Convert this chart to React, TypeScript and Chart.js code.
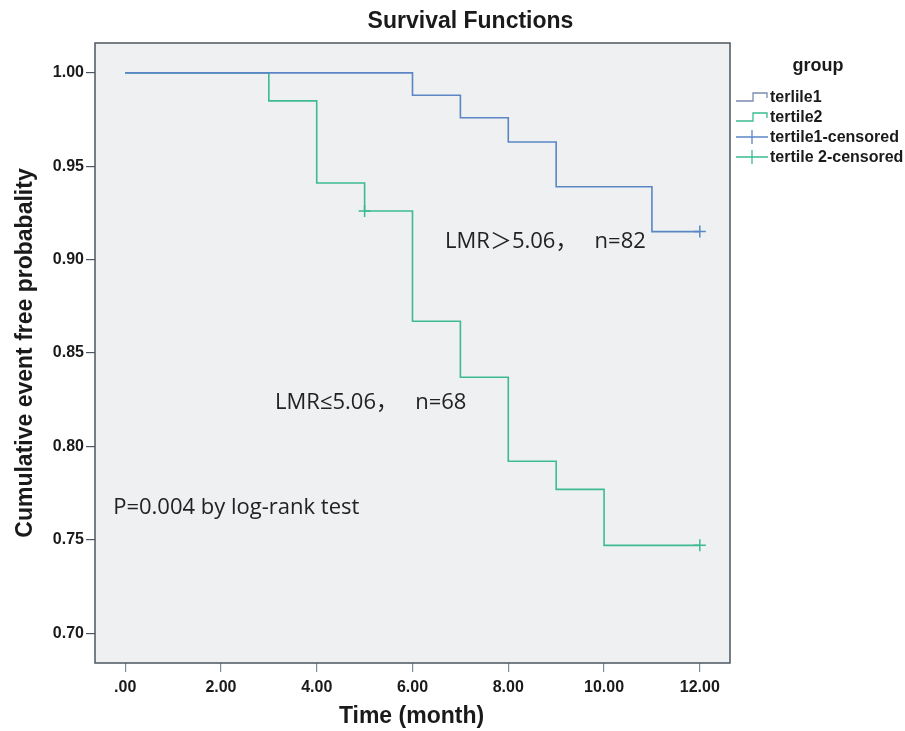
import React, { useEffect, useRef } from 'react';
import { Chart, registerables } from 'chart.js';

Chart.register(...registerables);

// ---------- data ----------
const tertile1Times = [0, 6, 7, 8, 9, 11, 12];
const tertile1Survival = [1.0, 0.988, 0.976, 0.963, 0.939, 0.915, 0.915];
const tertile2Times = [0, 3, 4, 5, 6, 7, 8, 9, 10, 12];
const tertile2Survival = [1.0, 0.985, 0.941, 0.926, 0.867, 0.837, 0.792, 0.777, 0.747, 0.747];
const tertile1CensoredTimes = [12];
const tertile1CensoredSurvival = [0.915];
const tertile2CensoredTimes = [5, 12];
const tertile2CensoredSurvival = [0.926, 0.747];

const xTickValues = [0, 2, 4, 6, 8, 10, 12];
const xTickLabels = ['.00', '2.00', '4.00', '6.00', '8.00', '10.00', '12.00'];
const yTickValues = [0.7, 0.75, 0.8, 0.85, 0.9, 0.95, 1.0];
const yTickLabels = ['0.70', '0.75', '0.80', '0.85', '0.90', '0.95', '1.00'];

const legendTitle = 'group';
const legendLabels = ['terlile1', 'tertile2', 'tertile1-censored', 'tertile 2-censored'];
const chartTitle = 'Survival Functions';
const xAxisTitle = 'Time (month)';
const yAxisTitle = 'Cumulative event free probabality';
const annotationTexts = ['LMR\uFF1E5.06\uFF0C   n=82', 'LMR\u22645.06\uFF0C   n=68', 'P=0.004 by log-rank test'];
// annotation anchor positions (data coordinates: time, probability)
const annotationAnchors = [
  [6.68, 0.9095],
  [3.13, 0.8235],
  [-0.25, 0.7672],
];

// ---------- styles ----------
const BLUE = '#5b86c6';
const GREEN = '#3dba92';
const LEGEND_BLUE = '#7c8bb0';
const PLOT_BG = '#eef0f1';
const TEXT = '#1a1a1a';
const SANS = '"Liberation Sans", Arial, sans-serif';
const NOTE_FONT = '"Open Sans", "Noto Sans", "Noto Sans CJK SC", sans-serif';

const toXY = (xs: number[], ys: number[]) => xs.map((x, i) => ({ x, y: ys[i] }));

const decorPlugin = {
  id: 'spssDecor',
  beforeDraw(chart: any) {
    const { ctx, chartArea } = chart;
    ctx.save();
    ctx.fillStyle = '#ffffff';
    ctx.fillRect(0, 0, chart.width, chart.height);
    ctx.fillStyle = PLOT_BG;
    ctx.fillRect(chartArea.left, chartArea.top, chartArea.right - chartArea.left, chartArea.bottom - chartArea.top);
    ctx.restore();
  },
  afterDraw(chart: any) {
    const { ctx, chartArea } = chart;
    const xs = chart.scales.x;
    const ys = chart.scales.y;
    ctx.save();
    // plot frame
    ctx.strokeStyle = '#4d5560';
    ctx.lineWidth = 1.5;
    ctx.strokeRect(chartArea.left, chartArea.top, chartArea.right - chartArea.left, chartArea.bottom - chartArea.top);

    // title
    ctx.fillStyle = TEXT;
    ctx.textAlign = 'center';
    ctx.textBaseline = 'middle';
    ctx.font = `bold 23px ${SANS}`;
    ctx.fillText(chartTitle, (chartArea.left + chartArea.right) / 2 + 58, 22);

    // x axis title
    ctx.font = `bold 23px ${SANS}`;
    ctx.fillText(xAxisTitle, (chartArea.left + chartArea.right) / 2 - 1, 717);

    // y axis title
    ctx.save();
    ctx.translate(26, (chartArea.top + chartArea.bottom) / 2);
    ctx.rotate(-Math.PI / 2);
    ctx.font = `bold 23px ${SANS}`;
    ctx.fillText(yAxisTitle, 0, 0);
    ctx.restore();

    // annotations
    ctx.font = `22px ${NOTE_FONT}`;
    ctx.textAlign = 'left';
    ctx.fillStyle = '#222222';
    annotationTexts.forEach((t, i) => {
      const [ax, ay] = annotationAnchors[i];
      ctx.fillText(t, xs.getPixelForValue(ax), ys.getPixelForValue(ay));
    });

    // legend
    const lx = chartArea.right + 6;
    ctx.fillStyle = TEXT;
    ctx.textAlign = 'center';
    ctx.font = `bold 18px ${SANS}`;
    ctx.fillText(legendTitle, 818, 66);
    ctx.textAlign = 'left';
    ctx.font = `bold 16px ${SANS}`;
    const rowY = [97, 117, 137, 157];
    const colors = [LEGEND_BLUE, GREEN, BLUE, GREEN];
    legendLabels.forEach((label, i) => {
      const y = rowY[i];
      ctx.strokeStyle = colors[i];
      ctx.lineWidth = 1.3;
      ctx.beginPath();
      if (i < 2) {
        ctx.moveTo(lx, y + 4);
        ctx.lineTo(lx + 17, y + 4);
        ctx.lineTo(lx + 17, y - 4);
        ctx.lineTo(lx + 31, y - 4);
        ctx.lineTo(lx + 31, y + 1);
      } else {
        ctx.moveTo(lx, y);
        ctx.lineTo(lx + 32, y);
        ctx.moveTo(lx + 16, y - 7);
        ctx.lineTo(lx + 16, y + 7);
      }
      ctx.stroke();
      ctx.fillStyle = TEXT;
      ctx.fillText(label, lx + 34, y + 1);
    });
    ctx.restore();
  },
};

export default function App() {
  const canvasRef = useRef<HTMLCanvasElement | null>(null);

  useEffect(() => {
    if (!canvasRef.current) return;
    const chart = new Chart(canvasRef.current, {
      type: 'line',
      data: {
        datasets: [
          {
            label: legendLabels[0],
            data: toXY(tertile1Times, tertile1Survival),
            borderColor: BLUE,
            borderWidth: 1.6,
            stepped: 'before',
            pointRadius: 0,
            fill: false,
          },
          {
            label: legendLabels[1],
            data: toXY(tertile2Times, tertile2Survival),
            borderColor: GREEN,
            borderWidth: 1.6,
            stepped: 'before',
            pointRadius: 0,
            fill: false,
          },
          {
            type: 'scatter',
            label: legendLabels[2],
            data: toXY(tertile1CensoredTimes, tertile1CensoredSurvival),
            borderColor: BLUE,
            backgroundColor: BLUE,
            pointStyle: 'cross',
            pointRadius: 6,
            borderWidth: 1.5,
            showLine: false,
          },
          {
            type: 'scatter',
            label: legendLabels[3],
            data: toXY(tertile2CensoredTimes, tertile2CensoredSurvival),
            borderColor: GREEN,
            backgroundColor: GREEN,
            pointStyle: 'cross',
            pointRadius: 6,
            borderWidth: 1.5,
            showLine: false,
          },
        ] as any,
      },
      options: {
        animation: false,
        responsive: true,
        maintainAspectRatio: false,
        layout: { padding: { left: 0, right: 175, top: 43, bottom: 0 } },
        plugins: {
          legend: { display: false },
          title: { display: false },
          tooltip: { enabled: false },
        },
        scales: {
          x: {
            type: 'linear',
            min: -0.63,
            max: 12.63,
            afterBuildTicks: (scale: any) => {
              scale.ticks = xTickValues.map((v) => ({ value: v }));
            },
            afterFit: (scale: any) => {
              scale.height = 68;
            },
            border: { display: false },
            grid: {
              drawOnChartArea: false,
              drawTicks: true,
              tickLength: 9,
              color: '#7d8c9a',
              lineWidth: 1.2,
            },
            ticks: {
              autoSkip: false,
              maxRotation: 0,
              padding: 6,
              color: TEXT,
              font: { family: SANS, size: 16, weight: 'bold' },
              callback: (_v: any, i: number) => xTickLabels[i],
            },
          },
          y: {
            type: 'linear',
            min: 0.684,
            max: 1.016,
            afterBuildTicks: (scale: any) => {
              scale.ticks = yTickValues.map((v) => ({ value: v }));
            },
            afterFit: (scale: any) => {
              scale.width = 95;
            },
            border: { display: false },
            grid: {
              drawOnChartArea: false,
              drawTicks: true,
              tickLength: 9,
              color: '#4d5560',
              lineWidth: 1.2,
            },
            ticks: {
              autoSkip: false,
              padding: 2,
              color: TEXT,
              font: { family: SANS, size: 16, weight: 'bold' },
              callback: (_v: any, i: number) => yTickLabels[i],
            },
          },
        },
      } as any,
      plugins: [decorPlugin],
    });
    return () => chart.destroy();
  }, []);

  return (
    <div style={{ position: 'absolute', left: 0, top: 0, width: 905, height: 731 }}>
      <canvas ref={canvasRef} />
    </div>
  );
}
